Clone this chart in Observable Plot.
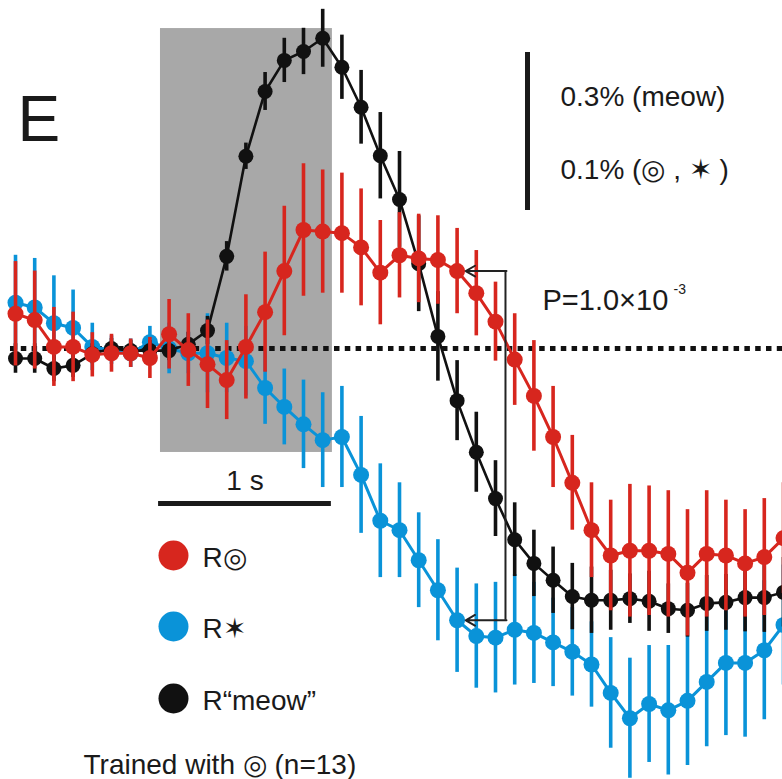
<!DOCTYPE html>
<html>
<head>
<meta charset="utf-8">
<script src="https://cdn.jsdelivr.net/npm/d3@7"></script>
<script src="https://cdn.jsdelivr.net/npm/@observablehq/plot@0.6"></script>
<style>
  html, body { margin: 0; padding: 0; background: #fff; overflow: hidden; }
  #chart svg { display: block; overflow: hidden; }
</style>
</head>
<body>
<div id="chart"></div>
<script>
// ---- data (ΔF/F, %), sampled at 9 frames per second ----
const frameRate = 9;
const frames = d3.range(41);

const redMean = [0.022, 0.018, 0.001, 0.001, -0.004, -0.003, -0.003, -0.006, 0.009, -0.001,
  -0.010, -0.020, 0.001, 0.023, 0.049, 0.075, 0.074, 0.073, 0.064, 0.048,
  0.059, 0.057, 0.056, 0.049, 0.035, 0.017, -0.007, -0.030, -0.056, -0.085,
  -0.115, -0.131, -0.128, -0.128, -0.130, -0.142, -0.130, -0.131, -0.136, -0.132, -0.120];
const redSem = [0.033, 0.031, 0.025, 0.022, 0.014, 0.012, 0.009, 0.013, 0.022, 0.023,
  0.028, 0.025, 0.033, 0.038, 0.041, 0.042, 0.039, 0.038, 0.037, 0.033,
  0.027, 0.028, 0.028, 0.027, 0.027, 0.025, 0.029, 0.035, 0.032, 0.030,
  0.030, 0.035, 0.042, 0.041, 0.040, 0.040, 0.040, 0.035, 0.034, 0.037, 0.035];

const blueMean = [0.029, 0.026, 0.016, 0.013, 0.001, -0.001, -0.003, 0.004, 0.000, -0.003,
  -0.003, -0.006, -0.008, -0.025, -0.037, -0.048, -0.058, -0.056, -0.080, -0.109,
  -0.115, -0.134, -0.153, -0.172, -0.182, -0.183, -0.178, -0.180, -0.186, -0.192,
  -0.200, -0.218, -0.234, -0.225, -0.229, -0.223, -0.211, -0.199, -0.199, -0.191, -0.175];
const blueSem = [0.030, 0.031, 0.030, 0.024, 0.015, 0.009, 0.009, 0.010, 0.016, 0.013,
  0.025, 0.022, 0.022, 0.023, 0.024, 0.028, 0.030, 0.032, 0.037, 0.036,
  0.030, 0.030, 0.032, 0.033, 0.033, 0.035, 0.035, 0.032, 0.028, 0.028,
  0.027, 0.035, 0.038, 0.037, 0.041, 0.041, 0.041, 0.046, 0.047, 0.044, 0.038];

const meowMean = [-0.019, -0.019, -0.038, -0.032, -0.010, 0.000, -0.004, -0.004, -0.004, 0.008,
  0.034, 0.175, 0.365, 0.488, 0.547, 0.564, 0.589, 0.534, 0.458, 0.366,
  0.283, 0.161, 0.023, -0.099, -0.197, -0.285, -0.363, -0.408, -0.440, -0.471,
  -0.478, -0.478, -0.475, -0.480, -0.494, -0.497, -0.484, -0.482, -0.473, -0.473, -0.463];
const meowSem = [0.028, 0.028, 0.025, 0.023, 0.019, 0.019, 0.019, 0.019, 0.019, 0.023,
  0.027, 0.028, 0.025, 0.036, 0.042, 0.044, 0.055, 0.061, 0.070, 0.082,
  0.091, 0.091, 0.085, 0.076, 0.076, 0.072, 0.070, 0.063, 0.063, 0.063,
  0.063, 0.057, 0.047, 0.057, 0.047, 0.051, 0.053, 0.053, 0.065, 0.066, 0.066];

const seriesNames = ["R◎", "R✶", "R“meow”"];
const seriesColors = ["#d7261e", "#0a93d8", "#111111"];
// scale bar = 0.1% for ◎ and ✶, 0.3% for "meow"
const displayFactor = [1, 1, 1 / 3];

const stimulus = {t0: 0.839, t1: 1.834};       // grey window (s)
const timeBar = {t0: 0.828, t1: 1.828};          // 1 s bar
const pText = "P=1.0×10";
const pExp = "-3";

// ---- build table ----
const means = [redMean, blueMean, meowMean];
const sems = [redSem, blueSem, meowSem];
const rows = [];
means.forEach((m, s) => {
  frames.forEach(i => {
    const f = displayFactor[s];
    rows.push({series: seriesNames[s], t: i / frameRate, y: m[i] * f,
               lo: (m[i] - sems[s][i]) * f, hi: (m[i] + sems[s][i]) * f});
  });
});
const bySeries = name => rows.filter(d => d.series === name);

const W = 782, H = 779;
const font = "Liberation Sans, Arial, Helvetica, sans-serif";

function seriesMarks(idx, r, lw) {
  const data = bySeries(seriesNames[idx]);
  const c = seriesColors[idx];
  return [
    Plot.ruleX(data, {x: "t", y1: "lo", y2: "hi", stroke: c, strokeWidth: 3.6}),
    Plot.line(data, {x: "t", y: "y", stroke: c, strokeWidth: lw}),
    Plot.dot(data, {x: "t", y: "y", r: r, fill: c, stroke: "none"})
  ];
}

// P bracket between R◎ and R✶ at frame 23
const pIdx = 23;
const pT = pIdx / frameRate;
const bracketX = pT + 0.28;
const tipX = pT + 0.05;
const pTop = redMean[pIdx], pBot = blueMean[pIdx];

const legendY = [555, 626, 698];

const plot = Plot.plot({
  width: W, height: H,
  margin: 0,
  style: {fontFamily: font, background: "#fff"},
  x: {domain: [-15 / 172.8, (W - 15) / 172.8], axis: null},
  y: {domain: [(348 - H) / 1580, 348 / 1580], range: [H, 0], axis: null},
  marks: [
    Plot.rect([stimulus], {x1: "t0", x2: "t1", y1: -0.0658, y2: 0.2025, fill: "#a8a8a8"}),
    Plot.ruleY([0], {x1: -0.029, x2: 4.6, stroke: "#111", strokeWidth: 5, strokeDasharray: "5.5,5.3"}),
    ...seriesMarks(1, 8, 3),
    ...seriesMarks(2, 7.5, 2.6),
    ...seriesMarks(0, 8, 3),
    // P bracket
    Plot.ruleX([bracketX], {y1: pBot, y2: pTop, stroke: "#222", strokeWidth: 2}),
    Plot.arrow([{x1: bracketX, x2: tipX, y: pTop}, {x1: bracketX, x2: tipX, y: pBot}],
      {x1: "x1", x2: "x2", y1: "y", y2: "y", stroke: "#222", strokeWidth: 2, headLength: 8, insetEnd: 0, insetStart: -1}),
    Plot.text([pText], {frameAnchor: "top-left", dx: 542, dy: 309, textAnchor: "start", lineAnchor: "bottom", fontSize: 29, fill: "#1a1a1a"}),
    Plot.text([pExp], {frameAnchor: "top-left", dx: 673, dy: 293, textAnchor: "start", lineAnchor: "bottom", fontSize: 14, fill: "#1a1a1a"}),
    // vertical scale bar
    Plot.ruleX([(527 - 15) / 172.8], {y1: 0.0873, y2: 0.1873, stroke: "#1a1a1a", strokeWidth: 5}),
    Plot.text(["0.3% (meow)"], {frameAnchor: "top-left", dx: 560, dy: 105, textAnchor: "start", lineAnchor: "bottom", fontSize: 28, fill: "#1a1a1a"}),
    Plot.text(["0.1% (◎ , ✶ )"], {frameAnchor: "top-left", dx: 560, dy: 178, textAnchor: "start", lineAnchor: "bottom", fontSize: 28, fill: "#1a1a1a"}),
    // time bar
    Plot.ruleY([-0.0981], {x1: timeBar.t0, x2: timeBar.t1, stroke: "#1a1a1a", strokeWidth: 5}),
    Plot.text(["1 s"], {x: (timeBar.t0 + timeBar.t1) / 2, y: -0.0981, dy: -13, textAnchor: "middle", lineAnchor: "bottom", fontSize: 28, fill: "#1a1a1a"}),
    // panel letter
    Plot.text(["E"], {frameAnchor: "top-left", dx: 17, dy: 140, textAnchor: "start", lineAnchor: "bottom", fontSize: 64, fill: "#1a1a1a", fontFamily: "Liberation Sans Narrow, Liberation Sans, Arial, sans-serif"}),
    // legend
    ...seriesNames.flatMap((name, k) => [
      Plot.dot([name], {frameAnchor: "top-left", dx: 173, dy: legendY[k], r: 15, fill: seriesColors[k], stroke: "none"}),
      Plot.text([name], {frameAnchor: "top-left", dx: 202, dy: legendY[k] + 11, textAnchor: "start", lineAnchor: "bottom", fontSize: 28, fill: "#1a1a1a"})
    ]),
    Plot.text(["Trained with ◎ (n=13)"], {frameAnchor: "top-left", dx: 83, dy: 773, textAnchor: "start", lineAnchor: "bottom", fontSize: 28, fill: "#1a1a1a"})
  ]
});

document.getElementById("chart").appendChild(plot);
</script>
</body>
</html>
